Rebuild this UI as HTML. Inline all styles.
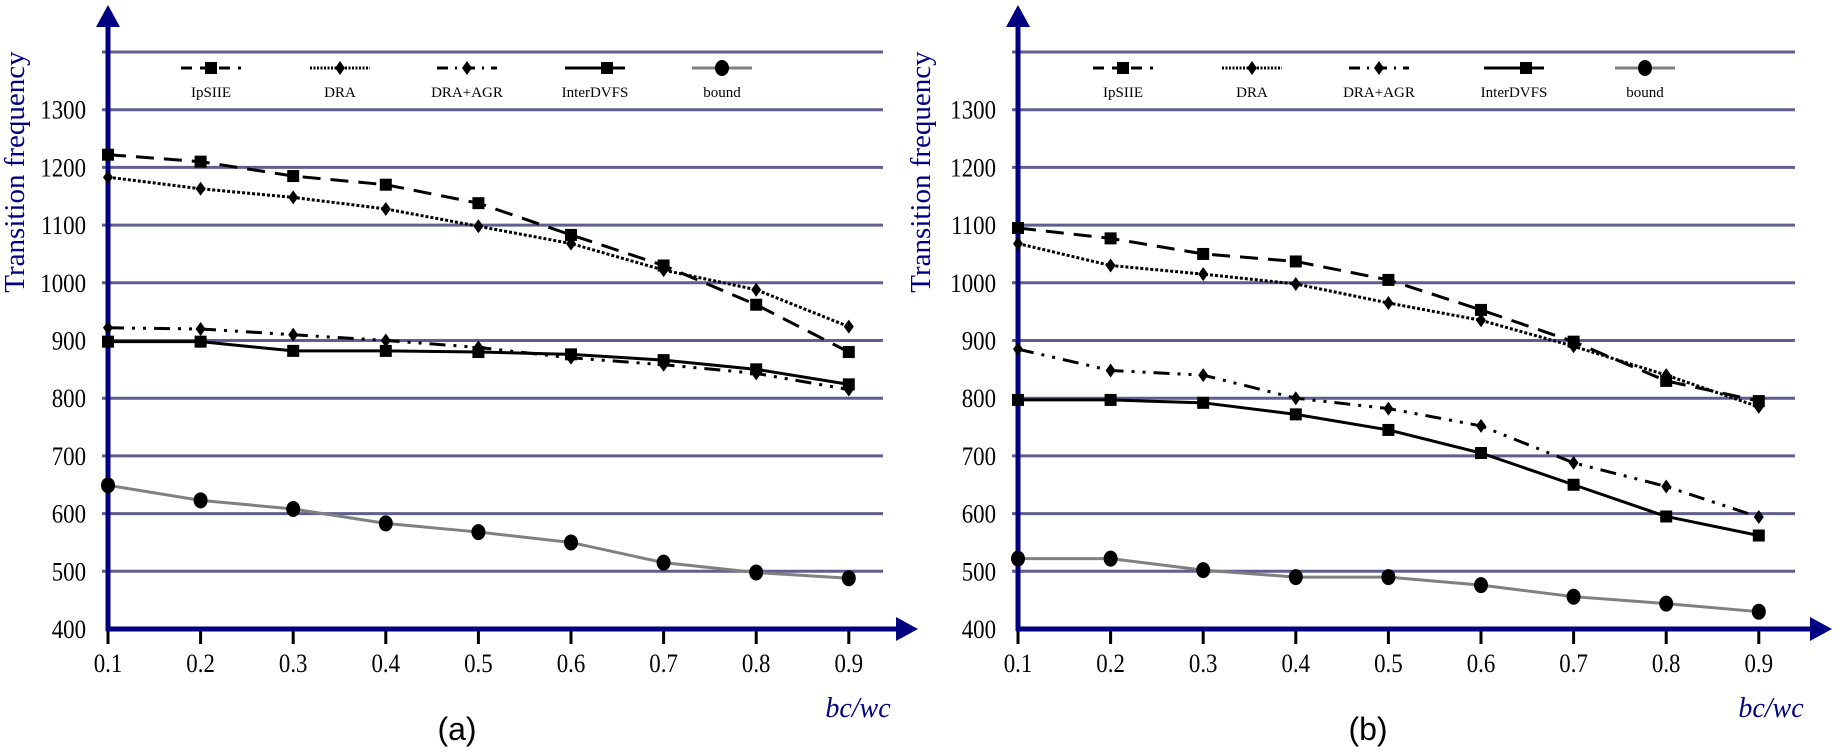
<!DOCTYPE html>
<html><head><meta charset="utf-8">
<style>
html,body{margin:0;padding:0;background:#fff;}
svg{display:block;}
text{font-family:"Liberation Serif",serif;}
</style></head>
<body>
<svg id="fig" width="1840" height="752" viewBox="0 0 1840 752" xmlns="http://www.w3.org/2000/svg"></svg>
<script>
const categories = [0.1,0.2,0.3,0.4,0.5,0.6,0.7,0.8,0.9];
const yTicks = [400,500,600,700,800,900,1000,1100,1200,1300];
const seriesNames = ["IpSIIE","DRA","DRA+AGR","InterDVFS","bound"];
const aIpSIIE = [1222,1210,1185,1170,1138,1083,1030,962,880];
const aDRA = [1183,1163,1148,1128,1098,1068,1022,988,924];
const aDRAAGR = [922,920,910,900,888,870,858,843,815];
const aInterDVFS = [898,898,882,882,880,876,866,850,824];
const aBound = [649,623,608,583,568,550,515,498,488];
const bIpSIIE = [1095,1077,1050,1037,1005,953,898,830,795];
const bDRA = [1068,1030,1015,998,965,935,890,840,785];
const bDRAAGR = [885,848,840,800,782,752,688,647,594];
const bInterDVFS = [797,797,792,772,745,705,650,595,562];
const bBound = [522,522,502,490,490,476,456,444,430];

const NS="http://www.w3.org/2000/svg";
const svg=document.getElementById('fig');
function mk(tag,attrs,parent){const e=document.createElementNS(NS,tag);for(const k in attrs)e.setAttribute(k,attrs[k]);(parent||svg).appendChild(e);return e;}

const styles=[
 {dash:"18,10",marker:"square",color:"#000"},
 {dash:"3,2",marker:"diamond",color:"#000"},
 {dash:"16,8,3,8,3,8",marker:"diamond",color:"#000"},
 {dash:"",marker:"square",color:"#000"},
 {dash:"",marker:"circle",color:"#808080"}
];

function marker(g,type,x,y){
  let m;
  if(type==="square") m=mk('rect',{x:x-6,y:y-6,width:12,height:12,fill:'#000'},g);
  else if(type==="diamond") m=mk('polygon',{points:`${x},${y-7} ${x+5},${y} ${x},${y+7} ${x-5},${y}`,fill:'#000'},g);
  else m=mk('ellipse',{cx:x,cy:y,rx:7,ry:8,fill:'#000'},g);
  
  
}

function chart(p){
  const ax=p.ax, step=92.6, y0=629, k=0.577;
  const X=i=>ax+i*step;
  const Y=v=>y0-(v-400)*k;
  const g=mk('g',{});
  
  
  // gridlines
  [500,600,700,800,900,1000,1100,1200,1300,1400].forEach(v=>{
    const l=mk('line',{x1:ax-6,x2:p.gridEnd,y1:Y(v),y2:Y(v),stroke:'#5f5f8f','stroke-width':3},g);
    
    
  });
  // y tick labels
  yTicks.forEach(v=>{
    const t=mk('text',{x:ax-22,y:Y(v)+9,'text-anchor':'end','font-size':26,fill:'#000',transform:`translate(${ax-22},0) scale(0.88,1) translate(${-(ax-22)},0)`},g);
    t.textContent=v;
    
    
  });
  // x ticks
  categories.forEach((c,i)=>{
    const tk=mk('line',{x1:X(i),x2:X(i),y1:629,y2:644,stroke:'#000','stroke-width':3},g);
    
    
    const t=mk('text',{x:X(i),y:672,'text-anchor':'middle','font-size':26,fill:'#000',transform:`translate(${X(i)},0) scale(0.88,1) translate(${-X(i)},0)`},g);
    t.textContent=c.toFixed(1);
    
    
  });
  // axes
  const ya=mk('line',{x1:ax,x2:ax,y1:22,y2:631,stroke:'#000080','stroke-width':5},g);
  
  
  const yh=mk('polygon',{points:`${ax},5 ${ax+12},27 ${ax-12},27`,fill:'#000080'},g);
  
  
  const xa=mk('line',{x1:ax-2,x2:p.arrowTip-18,y1:629,y2:629,stroke:'#000080','stroke-width':5},g);
  
  
  const xh=mk('polygon',{points:`${p.arrowTip},629 ${p.arrowTip-22},617 ${p.arrowTip-22},641`,fill:'#000080'},g);
  
  
  // y title
  const yt=mk('text',{x:p.titleX,y:172,'text-anchor':'middle','font-size':29,fill:'#000080',transform:`rotate(-90 ${p.titleX} 172)`},g);
  yt.textContent='Transition frequency';
  
  
  // x title
  const xt=mk('text',{x:p.xTitleX,y:717,'text-anchor':'middle','font-size':28,'font-style':'italic',fill:'#000080'},g);
  xt.textContent='bc/wc';
  
  
  // caption
  const cp=mk('text',{x:p.capX,y:740,'text-anchor':'middle','font-size':32,fill:'#000',style:'font-family:"Liberation Sans",sans-serif'},g);
  cp.textContent=p.caption;
  
  
  // series
  p.series.forEach((vals,si)=>{
    const st=styles[si];
    const sg=mk('g',{},g);
    
    
    const pts=vals.map((v,i)=>X(i)+','+Y(v)).join(' ');
    const attrs={points:pts,fill:'none',stroke:st.color,'stroke-width':3};
    if(st.dash) attrs['stroke-dasharray']=st.dash;
    const pl=mk('polyline',attrs,sg);
    
    
    vals.forEach((v,i)=>marker(sg,st.marker,X(i),Y(v)));
  });
  // legend
  p.legendX.forEach((cx,si)=>{
    const st=styles[si];
    const lg=mk('g',{},g);
    
    
    const a={x1:cx-30,x2:cx+30,y1:68,y2:68,stroke:st.color,'stroke-width':3};
    if(st.dash) a['stroke-dasharray']=si===0?"11,8":(si===1?"2,1.5":"11,7,2,7");
    mk('line',a,lg);
    marker(lg,st.marker,cx+(si===3?12:0),68);
    const t=mk('text',{x:cx,y:97,'text-anchor':'middle','font-size':15,fill:'#000'},lg);
    t.textContent=seriesNames[si];
  });
}

chart({id:'a',ax:108,gridEnd:883,arrowTip:918,titleX:24,xTitleX:858,capX:457,caption:'(a)',
  legendX:[211,340,467,595,722],
  series:[aIpSIIE,aDRA,aDRAAGR,aInterDVFS,aBound]});
chart({id:'b',ax:1018,gridEnd:1795,arrowTip:1832,titleX:930,xTitleX:1771,capX:1368,caption:'(b)',
  legendX:[1123,1252,1379,1514,1645],
  series:[bIpSIIE,bDRA,bDRAAGR,bInterDVFS,bBound]});
</script>
</body></html>
